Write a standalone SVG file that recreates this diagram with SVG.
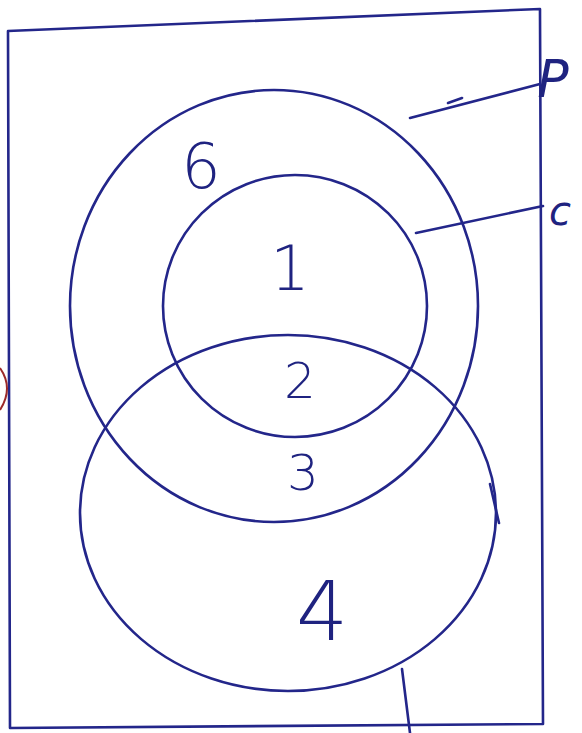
<svg xmlns="http://www.w3.org/2000/svg" width="582" height="733" viewBox="0 0 582 733">
<style>
.ln{fill:none;stroke:#23268a;stroke-width:2.6;stroke-linecap:round;stroke-linejoin:round}
.lb{font-family:"DejaVu Sans","Liberation Sans",sans-serif;fill:#1f2380;text-anchor:middle;font-weight:200}
</style>
<rect width="582" height="733" fill="#ffffff"/>
<g id="universe">
<path class="ln" d="M8,31 L540,9 L540,14 L543,724 L10,728 L8,31"/>
</g>
<g id="setP">
<ellipse class="ln" cx="274" cy="306" rx="204" ry="216"/>
</g>
<g id="setC">
<ellipse class="ln" cx="295" cy="306" rx="132" ry="131"/>
</g>
<g id="setB">
<ellipse class="ln" cx="288" cy="513" rx="208" ry="178"/>
<path class="ln" d="M490,484 L499,523"/>
</g>
<g id="connectors">
<path class="ln" d="M410,118 L540,84"/>
<path class="ln" d="M448,103 L462,98"/>
<path class="ln" d="M416,233 L543,206"/>
<path class="ln" d="M402,669 L410,733"/>
<path d="M0,368 Q14,388 0,410" fill="none" stroke="#9b2a2a" stroke-width="2"/>
</g>
<g id="labels">
<text class="lb" x="201" y="188" font-size="62">6</text>
<text class="lb" x="290" y="290" font-size="62">1</text>
<text class="lb" x="300" y="398" font-size="50">2</text>
<text class="lb" x="303" y="490" font-size="50">3</text>
<text class="lb" x="322" y="640" font-size="82">4</text>
<text class="lb" x="553" y="97" font-size="52" font-style="italic">P</text>
<text class="lb" x="560" y="225" font-size="40" font-style="italic">c</text>
</g>
</svg>
